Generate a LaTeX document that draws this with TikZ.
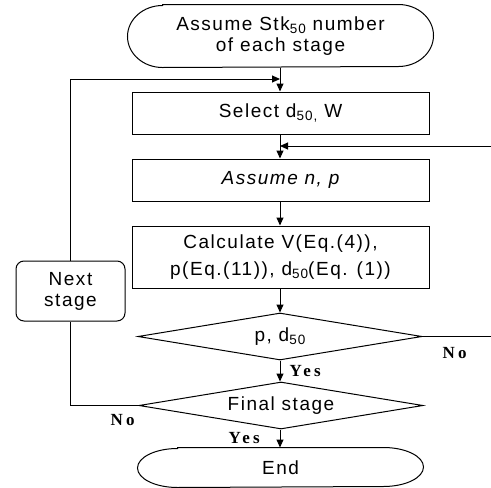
\documentclass[tikz,border=0pt]{standalone}
\usepackage{fontspec}
\setmainfont{Liberation Sans}[LetterSpace=8]
\newfontfamily\lblfont{Liberation Serif}[LetterSpace=20]
\usetikzlibrary{shapes.geometric,arrows.meta}
\newcommand{\lowidx}[1]{\raisebox{-0.3ex}{\fontsize{13.5}{13.5}\selectfont #1}}
\begin{document}
\begin{tikzpicture}[x=1pt,y=-1pt,
  line width=1pt,
  font=\fontsize{19}{21}\selectfont,
  arr/.style={-{Triangle[length=8pt,width=7pt]}},
  procbox/.style={draw,rectangle,minimum width=297pt,minimum height=42pt,inner sep=0pt,align=center},
  termtext/.style={rectangle,inner sep=0pt,align=center},
  decide/.style={draw,diamond,aspect=6,inner sep=0pt,minimum width=284pt,minimum height=47pt},
  roundbox/.style={draw,rectangle,rounded corners=8pt,minimum width=109pt,minimum height=60pt,inner sep=0pt,align=center},
  yesno/.style={font=\lblfont\bfseries\fontsize{17}{19}\selectfont,inner sep=0pt}
]
\useasboundingbox (0,0) rectangle (491,488);

% start terminal
\node[termtext,minimum width=305pt,minimum height=62pt] (start) at (280.5,36) {Assume Stk\lowidx{50} number\\of each stage};
\draw ([xshift=35pt]start.north west) -- ([xshift=-35pt]start.north east)
  arc[start angle=90,end angle=-90,x radius=35pt,y radius=31pt]
  -- ([xshift=35pt]start.south west)
  arc[start angle=270,end angle=90,x radius=35pt,y radius=31pt] -- cycle;

\node[procbox] (select) at (280.5,113) {Select d\lowidx{50,} W};
\node[procbox] (assume) at (280.5,180) {\itshape Assume n, p};
\node[procbox,minimum height=62pt] (calc) at (280.5,257) {Calculate V(Eq.(4)),\\[6pt]p(Eq.(11)), d\lowidx{50}(Eq. (1))};
\node[decide] (d1) at (280,336.5) {p, d\lowidx{50}};
\node[decide] (d2) at (281,405.5) {Final stage};

% end terminal
\node[termtext,minimum width=285pt,minimum height=39pt] (end) at (280.5,467.5) {End};
\draw ([xshift=40pt]end.north west) -- ([xshift=-40pt]end.north east)
  arc[start angle=90,end angle=-90,x radius=40pt,y radius=19.5pt]
  -- ([xshift=40pt]end.south west)
  arc[start angle=270,end angle=90,x radius=40pt,y radius=19.5pt] -- cycle;

\node[roundbox] (next) at (70.5,291) {Next\\stage};

% main flow
\coordinate (m1) at (280,79);
\coordinate (m2) at (280,146);
\draw[arr] (start.south -| m1) -- (select.north -| m1);
\draw[arr] (select.south -| m1) -- (assume.north -| m1);
\draw[arr] (assume.south -| m1) -- (calc.north -| m1);
\draw[arr] (calc.south -| m1) -- (d1.north);
\draw[arr] (d1.south) -- (d2.north -| d1.south);
\draw[arr] (d2.south -| m1) -- (end.north -| m1);

% loop back via Next stage
\coordinate (lb) at (70.5,405.5);
\draw (d2.west) -- (lb) -- (next.south);
\draw[arr] (next.north) -- (next.north |- m1) -- (m1);

% feedback from the right (cropped)
\coordinate (r1) at (491,336.5);
\coordinate (r2) at (491,146);
\draw (d1.east) -- (r1);
\draw[arr] (r2) -- (m2);

% labels
\node[yesno,anchor=west] (no1) at (442,353) {No};
\node[yesno,anchor=west] (yes1) at (289,371) {Yes};
\node[yesno,anchor=west] (no2) at (110,420) {No};
\node[yesno,anchor=west] (yes2) at (228,438) {Yes};
\end{tikzpicture}
\end{document}
